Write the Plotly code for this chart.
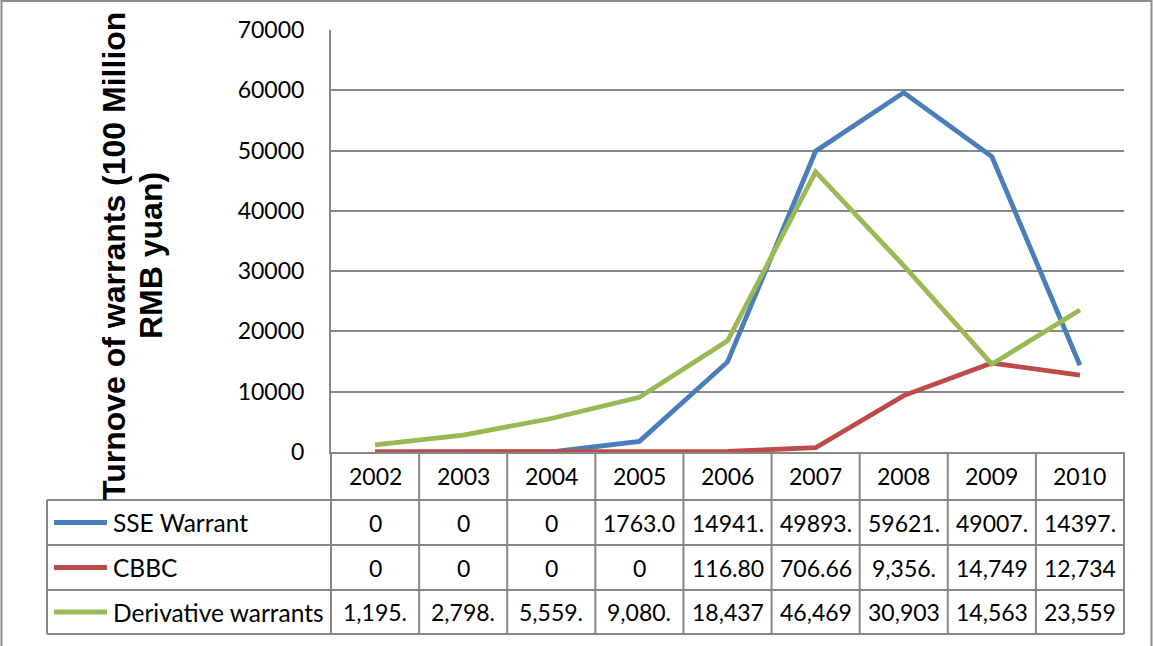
import plotly.graph_objects as go

# ---- data -------------------------------------------------------------
years = ["2002", "2003", "2004", "2005", "2006", "2007", "2008", "2009", "2010"]
sse_warrant = [0, 0, 0, 1763.0, 14941, 49893, 59621, 49007, 14397]
cbbc = [0, 0, 0, 0, 116.80, 706.66, 9356, 14749, 12734]
derivative_warrants = [1195, 2798, 5559, 9080, 18437, 46469, 30903, 14563, 23559]

series_names = ["SSE Warrant", "CBBC", "Derivative warrants"]
series_values = [sse_warrant, cbbc, derivative_warrants]
series_colors = ["#4A7EBB", "#BE4B48", "#98B954"]
use_thousands_sep = [False, True, True]

y_tick_values = [0, 10000, 20000, 30000, 40000, 50000, 60000, 70000]
y_title_lines = ["Turnove of warrants (100 Million", "RMB yuan)"]

# ---- page geometry (pixels) -------------------------------------------
W, H = 1153, 646
PLOT_L, PLOT_R, PLOT_T, PLOT_B = 331, 1124, 30, 452
TABLE_L = 47
ROW_EDGES = [452, 500, 545, 590, 634]   # header row + one row per series

GRID = "#878787"
BODY_FONT = "Lato, 'Open Sans', sans-serif"
NUM_SIZE = 23
NAME_SIZE = 24.5


def px_x(x):
    return x / W


def px_y(y):
    return 1 - y / H


def cell_text(v, sep):
    """Table cell text, cut to the narrow column width."""
    if v == 0:
        return "0"
    s = f"{v:,.2f}" if sep else f"{v:.2f}"
    return s[:6]


fig = go.Figure()

for name, vals, color in zip(series_names, series_values, series_colors):
    fig.add_trace(go.Scatter(
        x=years, y=vals, name=name, mode="lines",
        line=dict(color=color, width=4.8),
    ))

shapes = []
annotations = []

# outer chart frame
shapes.append(dict(type="rect", xref="paper", yref="paper",
                   x0=px_x(1.5), x1=px_x(1151.5), y0=px_y(1), y1=px_y(660),
                   line=dict(color="#8C8C8C", width=2), fillcolor="rgba(0,0,0,0)"))

# data table grid
n = len(years)
col_w = (PLOT_R - PLOT_L) / n
col_edges = [PLOT_L + col_w * k for k in range(n + 1)]
for y in ROW_EDGES[1:]:
    shapes.append(dict(type="line", xref="paper", yref="paper",
                       x0=px_x(TABLE_L), x1=px_x(PLOT_R), y0=px_y(y), y1=px_y(y),
                       line=dict(color=GRID, width=2)))
for x in col_edges:
    shapes.append(dict(type="line", xref="paper", yref="paper",
                       x0=px_x(x), x1=px_x(x), y0=px_y(ROW_EDGES[0]), y1=px_y(ROW_EDGES[-1]),
                       line=dict(color=GRID, width=2)))
shapes.append(dict(type="line", xref="paper", yref="paper",
                   x0=px_x(TABLE_L), x1=px_x(TABLE_L), y0=px_y(ROW_EDGES[1]), y1=px_y(ROW_EDGES[-1]),
                   line=dict(color=GRID, width=2)))

# header row: category labels (placed on the category axis by index)
hdr_mid = (ROW_EDGES[0] + ROW_EDGES[1]) / 2
for i, yr in enumerate(years):
    annotations.append(dict(x=i, xref="x", y=px_y(hdr_mid), yref="paper",
                            text=yr, showarrow=False, xanchor="center", yanchor="middle",
                            font=dict(family=BODY_FONT, size=NUM_SIZE, color="black")))

# series rows: legend key, name, values
for r, (name, vals, color, sep) in enumerate(
        zip(series_names, series_values, series_colors, use_thousands_sep)):
    mid = (ROW_EDGES[r + 1] + ROW_EDGES[r + 2]) / 2
    shapes.append(dict(type="line", xref="paper", yref="paper",
                       x0=px_x(54), x1=px_x(107), y0=px_y(mid), y1=px_y(mid),
                       line=dict(color=color, width=4.8)))
    annotations.append(dict(x=px_x(111), xref="paper", y=px_y(mid), yref="paper",
                            text=name, showarrow=False, xanchor="left", yanchor="middle",
                            font=dict(family=BODY_FONT, size=NAME_SIZE, color="black")))
    for i, v in enumerate(vals):
        annotations.append(dict(x=i, xref="x", y=px_y(mid), yref="paper",
                                text=cell_text(v, sep), showarrow=False,
                                xanchor="center", yanchor="middle",
                                font=dict(family=BODY_FONT, size=NUM_SIZE, color="black")))

# rotated axis title, two centred lines
title_mid = 256
for line, xc in zip(y_title_lines, [114, 151]):
    annotations.append(dict(x=px_x(xc), xref="paper", y=px_y(title_mid), yref="paper",
                            text=line, textangle=-90, showarrow=False,
                            xanchor="center", yanchor="middle",
                            font=dict(family="Liberation Sans, Arial, sans-serif",
                                      size=32, color="black", weight="bold")))

fig.update_layout(
    width=W, height=H,
    margin=dict(l=0, r=0, t=0, b=0, autoexpand=False),
    paper_bgcolor="white", plot_bgcolor="white",
    showlegend=False,
    shapes=shapes,
    annotations=annotations,
    xaxis=dict(
        type="category", range=[-0.5, n - 0.5], automargin=False,
        domain=[px_x(PLOT_L), px_x(PLOT_R)],
        showticklabels=False, ticks="", showgrid=False, zeroline=False,
        showline=True, linecolor=GRID, linewidth=2,
    ),
    yaxis=dict(
        range=[0, 70000], automargin=False,
        domain=[px_y(PLOT_B), px_y(PLOT_T)],
        tickvals=y_tick_values, ticktext=[str(v) for v in y_tick_values],
        tickfont=dict(family=BODY_FONT, size=NUM_SIZE, color="black"),
        ticks="", ticklabelstandoff=20,
        showgrid=True, gridcolor=GRID, gridwidth=2,
        zeroline=False, showline=True, linecolor=GRID, linewidth=2,
    ),
)

fig.write_html("out.html")
